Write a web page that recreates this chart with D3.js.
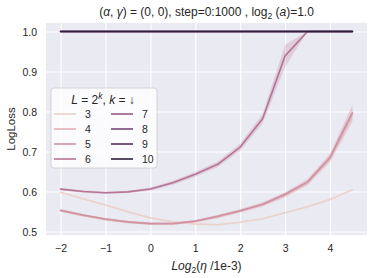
<!DOCTYPE html>
<html>
<head>
<meta charset="utf-8">
<script src="https://cdn.jsdelivr.net/npm/d3@7"></script>
<style>
    body { margin: 0; background: #fff; }
    svg text { font-family: "Liberation Sans", Arial, sans-serif; fill: #262626; }
</style>
</head>
<body>
<svg id="chart"></svg>
<script>
// log2(eta / 1e-3)
var etaLog = [-2, -1.5, -1, -0.5, 0, 0.5, 1, 1.5, 2, 2.5, 3, 3.5, 4, 4.5];

// k values for L = 2^k
var depthK = [3, 4, 5, 6, 7, 8, 9, 10];

// mean LogLoss per k
var lossK3 = [0.598, 0.582, 0.566, 0.549, 0.534, 0.524, 0.519, 0.517, 0.523, 0.532, 0.547, 0.562, 0.580, 0.604];
var lossK4 = [0.552, 0.540, 0.530, 0.523, 0.519, 0.519, 0.525, 0.537, 0.551, 0.567, 0.591, 0.622, 0.682, 0.793];
var lossK5 = [0.553, 0.541, 0.531, 0.524, 0.520, 0.520, 0.526, 0.538, 0.552, 0.568, 0.593, 0.624, 0.685, 0.797];
var lossK6 = [0.606, 0.600, 0.597, 0.599, 0.606, 0.622, 0.643, 0.668, 0.711, 0.782, 0.939, 1.0, 1.0, 1.0];
var lossK7 = [1.0, 1.0, 1.0, 1.0, 1.0, 1.0, 1.0, 1.0, 1.0, 1.0, 1.0, 1.0, 1.0, 1.0];
var lossK8 = [1.0, 1.0, 1.0, 1.0, 1.0, 1.0, 1.0, 1.0, 1.0, 1.0, 1.0, 1.0, 1.0, 1.0];
var lossK9 = [1.0, 1.0, 1.0, 1.0, 1.0, 1.0, 1.0, 1.0, 1.0, 1.0, 1.0, 1.0, 1.0, 1.0];
var lossK10 = [1.0, 1.0, 1.0, 1.0, 1.0, 1.0, 1.0, 1.0, 1.0, 1.0, 1.0, 1.0, 1.0, 1.0];

// half width of the confidence band per k
var bandK3 = [0.002, 0.002, 0.002, 0.002, 0.002, 0.002, 0.002, 0.002, 0.002, 0.002, 0.002, 0.003, 0.003, 0.003];
var bandK4 = [0.003, 0.003, 0.003, 0.003, 0.003, 0.003, 0.003, 0.004, 0.004, 0.005, 0.006, 0.007, 0.010, 0.020];
var bandK5 = [0.003, 0.003, 0.003, 0.003, 0.003, 0.003, 0.003, 0.004, 0.004, 0.005, 0.006, 0.007, 0.010, 0.020];
var bandK6 = [0.003, 0.003, 0.003, 0.003, 0.004, 0.005, 0.006, 0.007, 0.009, 0.012, 0.028, 0, 0, 0];
var bandNone = [0, 0, 0, 0, 0, 0, 0, 0, 0, 0, 0, 0, 0, 0];

var xTicks = [-2, -1, 0, 1, 2, 3, 4];
var yTicks = [0.5, 0.6, 0.7, 0.8, 0.9, 1.0];

var lossByK = [lossK3, lossK4, lossK5, lossK6, lossK7, lossK8, lossK9, lossK10];
var bandByK = [bandK3, bandK4, bandK5, bandK6, bandNone, bandNone, bandNone, bandNone];

// seaborn default cubehelix map (start 0, rot .4, hue .8, light .85, dark .15)
function cubehelix(t) {
    var x = 0.85 - 0.7 * t,
        a = 0.8 * x * (1 - x) / 2,
        phi = 2 * Math.PI * (0.4 * x),
        c = Math.cos(phi), s = Math.sin(phi);
    var r = x + a * (-0.14861 * c + 1.78277 * s),
        g = x + a * (-0.29227 * c - 0.90649 * s),
        b = x + a * (1.97294 * c);
    function clip(v) { return Math.round(255 * Math.max(0, Math.min(1, v))); }
    return d3.rgb(clip(r), clip(g), clip(b)).formatHex();
}

function drawChart() {
    var width = 374,
        height = 278,
        margin = {top: 23, right: 7, bottom: 43, left: 46};

    var svg = d3.select("#chart")
        .attr("width", width)
        .attr("height", height);

    var x = d3.scaleLinear()
        .domain([-2.325, 4.825])
        .range([margin.left, width - margin.right]);

    var y = d3.scaleLinear()
        .domain([0.4912, 1.0212])
        .range([height - margin.bottom, margin.top]);

    var colour = function (k) {
        return cubehelix((k - 3) / 7);
    };

    // Plot background
    svg.append("rect")
        .attr("x", margin.left)
        .attr("y", margin.top)
        .attr("width", width - margin.left - margin.right)
        .attr("height", height - margin.top - margin.bottom)
        .attr("fill", "#eaeaf2");

    // Grid lines + tick labels
    svg.append("g")
        .attr("transform", "translate(0," + (height - margin.bottom) + ")")
        .call(d3.axisBottom(x).tickValues(xTicks)
            .tickSize(-(height - margin.top - margin.bottom))
            .tickFormat(function (d) { return d3.format("")(d).replace("-", "\u2212"); }))
        .call(function (g) {
            g.select(".domain").remove();
            g.selectAll("line").attr("stroke", "#fff").attr("stroke-width", 1.1);
            g.selectAll("text").attr("dy", "0").attr("y", 17)
                .attr("font-size", "10.5px").attr("fill", "#262626");
        });

    svg.append("g")
        .attr("transform", "translate(" + margin.left + ",0)")
        .call(d3.axisLeft(y).tickValues(yTicks)
            .tickSize(-(width - margin.left - margin.right))
            .tickFormat(d3.format(".1f")))
        .call(function (g) {
            g.select(".domain").remove();
            g.selectAll("line").attr("stroke", "#fff").attr("stroke-width", 1.1);
            g.selectAll("text").attr("x", -9).attr("dy", "0.35em")
                .attr("font-size", "10.5px").attr("fill", "#262626");
        });

    var line = d3.line()
        .x(function (d) { return x(d.x); })
        .y(function (d) { return y(d.y); });

    var area = d3.area()
        .x(function (d) { return x(d.x); })
        .y0(function (d) { return y(d.y - d.e); })
        .y1(function (d) { return y(d.y + d.e); });

    var series = depthK.map(function (k, i) {
        return {
            k: k,
            points: etaLog.map(function (v, j) {
                return {x: v, y: lossByK[i][j], e: bandByK[i][j]};
            })
        };
    });

    // Confidence bands
    svg.append("g").selectAll("path")
        .data(series)
        .enter().append("path")
        .attr("d", function (d) { return area(d.points); })
        .attr("fill", function (d) { return colour(d.k); })
        .attr("fill-opacity", 0.25)
        .attr("stroke", "none");

    // Mean lines
    svg.append("g").selectAll("path")
        .data(series)
        .enter().append("path")
        .attr("d", function (d) { return line(d.points); })
        .attr("fill", "none")
        .attr("stroke", function (d) { return colour(d.k); })
        .attr("stroke-width", 1.6)
        .attr("stroke-linejoin", "round")
        .attr("stroke-linecap", "round");

    // Title
    var title = svg.append("text")
        .attr("x", (margin.left + width - margin.right) / 2)
        .attr("y", 16)
        .attr("text-anchor", "middle")
        .attr("font-size", "12px");
    title.append("tspan").text("(");
    title.append("tspan").attr("font-style", "italic").text("\u03b1");
    title.append("tspan").text(", ");
    title.append("tspan").attr("font-style", "italic").text("\u03b3");
    title.append("tspan").text(") = (0, 0), step=0:1000 , log");
    title.append("tspan").attr("font-size", "8.5px").attr("dy", 3).text("2");
    title.append("tspan").attr("dy", -3).text(" (");
    title.append("tspan").attr("font-style", "italic").text("a");
    title.append("tspan").text(")=1.0");

    // Axis labels
    var xlab = svg.append("text")
        .attr("x", (margin.left + width - margin.right) / 2)
        .attr("y", 270)
        .attr("text-anchor", "middle")
        .attr("font-size", "12px");
    xlab.append("tspan").attr("font-style", "italic").text("Log");
    xlab.append("tspan").attr("font-size", "8.5px").attr("dy", 3).text("2");
    xlab.append("tspan").attr("dy", -3).text("(");
    xlab.append("tspan").attr("font-style", "italic").text("\u03b7");
    xlab.append("tspan").text(" /1e-3)");

    svg.append("text")
        .attr("transform", "translate(15," + ((margin.top + height - margin.bottom) / 2) + ") rotate(-90)")
        .attr("text-anchor", "middle")
        .attr("font-size", "11.5px")
        .text("LogLoss");

    // Legend
    var legend = svg.append("g").attr("transform", "translate(51,88)");
    legend.append("rect")
        .attr("width", 106)
        .attr("height", 80)
        .attr("rx", 3)
        .attr("fill", "#ffffff")
        .attr("fill-opacity", 0.8)
        .attr("stroke", "#cccccc")
        .attr("stroke-width", 0.8);

    var ltitle = legend.append("text")
        .attr("x", 52)
        .attr("y", 16)
        .attr("text-anchor", "middle")
        .attr("font-size", "12px");
    ltitle.append("tspan").attr("font-style", "italic").text("L");
    ltitle.append("tspan").text(" = 2");
    ltitle.append("tspan").attr("font-style", "italic").attr("font-size", "8.5px").attr("dy", -5).text("k");
    ltitle.append("tspan").attr("dy", 5).text(", ");
    ltitle.append("tspan").attr("font-style", "italic").text("k");
    ltitle.append("tspan").text(" = \u2193");

    var items = legend.selectAll(".item")
        .data(depthK)
        .enter().append("g")
        .attr("class", "item")
        .attr("transform", function (d, i) {
            return "translate(" + (i < 4 ? 3 : 60) + "," + (26 + (i % 4) * 15) + ")";
        });

    items.append("line")
        .attr("x1", 0).attr("x2", 22)
        .attr("stroke", function (d) { return colour(d); })
        .attr("stroke-width", 1.6);

    items.append("text")
        .attr("x", 31)
        .attr("dy", "0.35em")
        .attr("font-size", "10.5px")
        .text(function (d) { return d; });
}

drawChart();
</script>
</body>
</html>
